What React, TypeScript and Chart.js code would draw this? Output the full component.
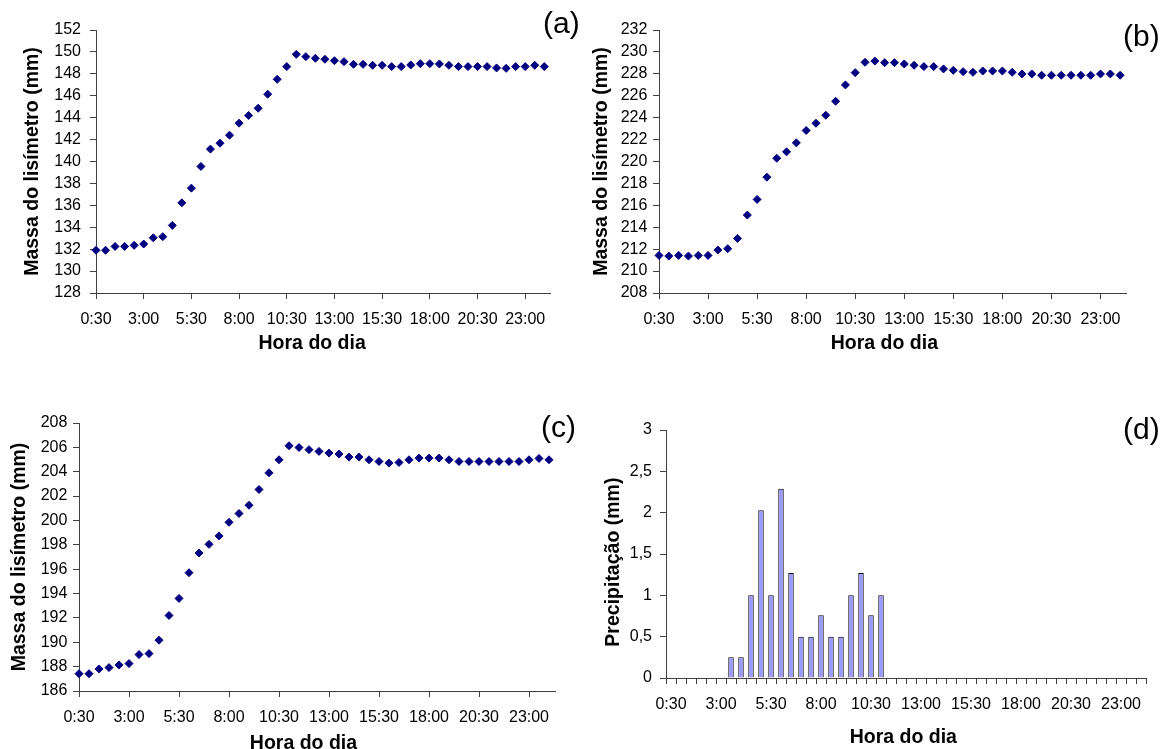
import React, { useEffect, useRef } from 'react';
import { Chart, registerables } from 'chart.js';

Chart.register(...registerables);

// ---------- data ----------
const timeLabels = [
  '0:30', '1:00', '1:30', '2:00', '2:30', '3:00', '3:30', '4:00', '4:30', '5:00',
  '5:30', '6:00', '6:30', '7:00', '7:30', '8:00', '8:30', '9:00', '9:30', '10:00',
  '10:30', '11:00', '11:30', '12:00', '12:30', '13:00', '13:30', '14:00', '14:30', '15:00',
  '15:30', '16:00', '16:30', '17:00', '17:30', '18:00', '18:30', '19:00', '19:30', '20:00',
  '20:30', '21:00', '21:30', '22:00', '22:30', '23:00', '23:30', '24:00',
];
const xTickIndices = [0, 5, 10, 15, 20, 25, 30, 35, 40, 45];

const massA = [
  131.9, 131.9, 132.25, 132.25, 132.35, 132.47, 133.04, 133.14, 134.17, 136.23,
  137.57, 139.55, 141.13, 141.67, 142.4, 143.5, 144.2, 144.86, 146.14, 147.5,
  148.66, 149.78, 149.57, 149.42, 149.33, 149.2, 149.11, 148.87, 148.87, 148.78,
  148.78, 148.66, 148.66, 148.81, 148.93, 148.93, 148.9, 148.78, 148.66, 148.66,
  148.66, 148.66, 148.54, 148.5, 148.66, 148.66, 148.78, 148.66,
];
const massB = [
  211.43, 211.37, 211.43, 211.37, 211.43, 211.43, 211.92, 212.04, 212.98, 215.11,
  216.54, 218.57, 220.3, 220.88, 221.7, 222.83, 223.49, 224.22, 225.5, 226.99,
  228.11, 229.05, 229.17, 229.02, 229.02, 228.9, 228.78, 228.66, 228.66, 228.45,
  228.32, 228.2, 228.14, 228.26, 228.26, 228.26, 228.14, 227.99, 227.99, 227.87,
  227.87, 227.87, 227.87, 227.87, 227.87, 227.99, 227.99, 227.87,
];
const massC = [
  187.42, 187.42, 187.81, 187.92, 188.14, 188.25, 188.99, 189.07, 190.17, 192.2,
  193.6, 195.71, 197.33, 198.04, 198.73, 199.85, 200.57, 201.25, 202.54, 203.91,
  204.98, 206.13, 205.99, 205.81, 205.67, 205.53, 205.45, 205.2, 205.2, 204.98,
  204.84, 204.71, 204.76, 204.98, 205.12, 205.12, 205.12, 204.98, 204.84, 204.84,
  204.84, 204.84, 204.84, 204.84, 204.84, 204.98, 205.09, 204.98,
];
const rain = [
  0, 0, 0, 0, 0, 0, 0.25, 0.25, 1, 2.03,
  1, 2.29, 1.27, 0.5, 0.5, 0.76, 0.5, 0.5, 1, 1.27,
  0.76, 1, 0, 0, 0, 0, 0, 0, 0, 0,
  0, 0, 0, 0, 0, 0, 0, 0, 0, 0,
  0, 0, 0, 0, 0, 0, 0, 0,
];

const massTitle = 'Massa do lisímetro (mm)';
const rainTitle = 'Precipitação (mm)';
const xTitle = 'Hora do dia';

// ---------- styles ----------
const FONT = "'Liberation Sans', Arial, Helvetica, sans-serif";
const NAVY = '#000080';
const BAR_FILL = '#9999FF';
const AXIS = '#404040';
const X_MAX = 47.6;

type MassP = {
  values: number[];
  yMin: number;
  yMax: number;
  padTop: number;
  padRight: number;
  yWidth: number;
  xHeight: number;
  yTitlePad: number;
  xTitlePad: number;
  yTickPad: number;
  xTitleSpaces: number;
};

function massConfig(p: MassP): any {
  return {
    type: 'scatter',
    data: {
      datasets: [
        {
          data: p.values.map((v, i) => ({ x: i, y: v })),
          pointStyle: 'rectRot',
          pointRadius: 4,
          pointHoverRadius: 4,
          backgroundColor: NAVY,
          borderColor: NAVY,
          borderWidth: 1,
          showLine: false,
          clip: false,
        },
      ],
    },
    options: {
      responsive: false,
      animation: false,
      devicePixelRatio: 1,
      layout: { padding: { top: p.padTop, right: p.padRight, bottom: 0, left: 0 } },
      plugins: { legend: { display: false }, tooltip: { enabled: false } },
      scales: {
        x: {
          type: 'linear',
          min: 0,
          max: X_MAX,
          afterBuildTicks: (s: any) => {
            s.ticks = xTickIndices.map((v) => ({ value: v }));
          },
          afterFit: (s: any) => {
            s.height = p.xHeight;
          },
          ticks: {
            callback: (v: any) => timeLabels[v],
            font: { family: FONT, size: 16 },
            color: '#000',
            padding: 11,
            maxRotation: 0,
            autoSkip: false,
          },
          grid: { drawOnChartArea: false, drawTicks: true, tickLength: 6, color: AXIS },
          border: { color: AXIS, width: 1 },
          title: {
            display: true,
            text: xTitle + ' '.repeat(p.xTitleSpaces),
            font: { family: FONT, size: 19.5, weight: 'bold' },
            color: '#000',
            padding: { top: 0, bottom: p.xTitlePad },
          },
        },
        y: {
          min: p.yMin,
          max: p.yMax,
          afterFit: (s: any) => {
            s.width = p.yWidth;
          },
          ticks: {
            stepSize: 2,
            autoSkip: false,
            font: { family: FONT, size: 16 },
            color: '#000',
            padding: p.yTickPad,
          },
          grid: { drawOnChartArea: false, drawTicks: true, tickLength: 6, color: AXIS },
          border: { color: AXIS, width: 1 },
          title: {
            display: true,
            text: massTitle,
            font: { family: FONT, size: 19.5, weight: 'bold' },
            color: '#000',
            padding: { top: p.yTitlePad, bottom: 0 },
          },
        },
      },
    },
  };
}

function rainConfig(): any {
  return {
    type: 'bar',
    data: {
      labels: timeLabels,
      datasets: [
        {
          data: rain,
          backgroundColor: BAR_FILL,
          borderColor: '#000',
          borderWidth: 1,
          barPercentage: 0.55,
          categoryPercentage: 1,
        },
      ],
    },
    options: {
      responsive: false,
      animation: false,
      devicePixelRatio: 1,
      layout: { padding: { top: 55, right: 19, bottom: 0, left: 0 } },
      plugins: { legend: { display: false }, tooltip: { enabled: false } },
      scales: {
        x: {
          type: 'category',
          offset: true,
          afterFit: (s: any) => {
            s.height = 87;
          },
          ticks: {
            callback: (_v: any, i: number) => (i % 5 === 0 ? timeLabels[i] : ''),
            font: { family: FONT, size: 16 },
            color: '#000',
            padding: 11,
            maxRotation: 0,
            minRotation: 0,
            autoSkip: false,
          },
          grid: { offset: true, drawOnChartArea: false, drawTicks: true, tickLength: 6, color: AXIS },
          border: { color: AXIS, width: 1 },
          title: {
            display: true,
            text: xTitle + ' ',
            font: { family: FONT, size: 19.5, weight: 'bold' },
            color: '#000',
            padding: { top: 0, bottom: 15.3 },
          },
        },
        y: {
          min: 0,
          max: 3,
          afterFit: (s: any) => {
            s.width = 86;
          },
          ticks: {
            stepSize: 0.5,
            autoSkip: false,
            callback: (v: any) => String(v).replace('.', ','),
            font: { family: FONT, size: 16 },
            color: '#000',
            padding: 8,
          },
          grid: { drawOnChartArea: false, drawTicks: true, tickLength: 6, color: AXIS },
          border: { color: AXIS, width: 1 },
          title: {
            display: true,
            text: rainTitle + '   ',
            font: { family: FONT, size: 19.5, weight: 'bold' },
            color: '#000',
            padding: { top: 22.3, bottom: 0 },
          },
        },
      },
    },
  };
}

function Panel(props: { left: number; top: number; width: number; height: number; build: () => any }) {
  const ref = useRef<HTMLCanvasElement | null>(null);
  useEffect(() => {
    const chart = new Chart(ref.current as HTMLCanvasElement, props.build());
    return () => chart.destroy();
  }, []);
  return (
    <canvas
      ref={ref}
      width={props.width}
      height={props.height}
      style={{ position: 'absolute', left: props.left, top: props.top, width: props.width, height: props.height }}
    />
  );
}

const panelLetterStyle = (left: number, top: number): React.CSSProperties => ({
  position: 'absolute',
  left,
  top,
  fontFamily: FONT,
  fontSize: 30,
  lineHeight: 1,
  color: '#000',
  whiteSpace: 'nowrap',
});

export default function App() {
  return (
    <div
      style={{
        position: 'absolute',
        left: 0,
        top: 0,
        width: 1165,
        height: 749,
        overflow: 'hidden',
        background: '#fff',
      }}
    >
      <Panel
        left={0}
        top={0}
        width={580}
        height={375}
        build={() =>
          massConfig({
            values: massA, yMin: 128, yMax: 152, padTop: 30, padRight: 30, yWidth: 96, xHeight: 82,
            yTitlePad: 21.3, xTitlePad: 20, yTickPad: 9, xTitleSpaces: 4,
          })
        }
      />
      <Panel
        left={580}
        top={0}
        width={585}
        height={375}
        build={() =>
          massConfig({
            values: massB, yMin: 208, yMax: 232, padTop: 30, padRight: 39, yWidth: 79, xHeight: 82,
            yTitlePad: 10.3, xTitlePad: 20, yTickPad: 5.6, xTitleSpaces: 3,
          })
        }
      />
      <Panel
        left={0}
        top={375}
        width={580}
        height={390}
        build={() =>
          massConfig({
            values: massC, yMin: 186, yMax: 208, padTop: 48, padRight: 25, yWidth: 79, xHeight: 74,
            yTitlePad: 8.3, xTitlePad: 9.8, yTickPad: 5.6, xTitleSpaces: 5,
          })
        }
      />
      <Panel left={580} top={375} width={585} height={390} build={rainConfig} />
      <div style={panelLetterStyle(543, 8.2)}>(a)</div>
      <div style={panelLetterStyle(1123, 20.7)}>(b)</div>
      <div style={panelLetterStyle(541, 412.4)}>(c)</div>
      <div style={panelLetterStyle(1123, 413.9)}>(d)</div>
    </div>
  );
}
